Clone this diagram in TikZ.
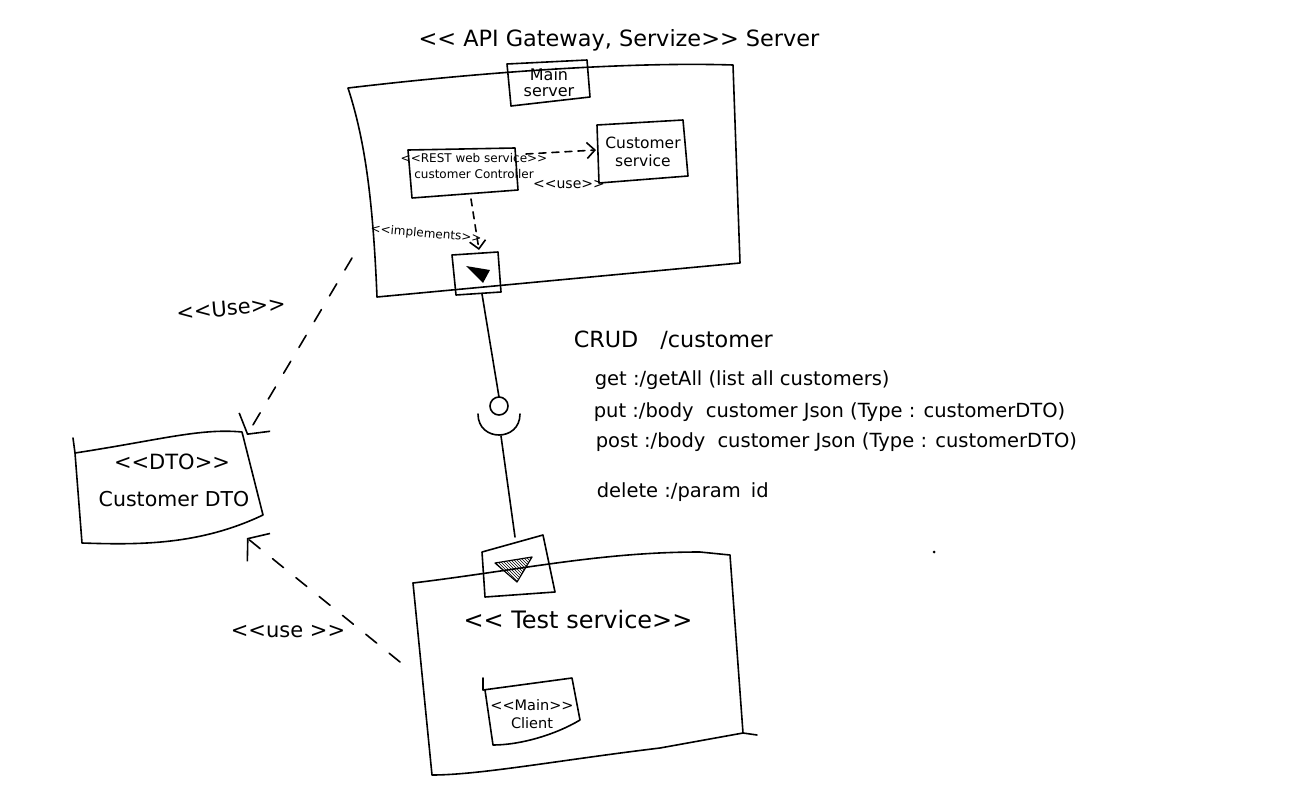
\documentclass[tikz,border=0pt]{standalone}
\usepackage{fontspec}
\setmainfont{DejaVu Sans}
\usetikzlibrary{arrows.meta,patterns}
\newcommand\LLx{<\kern0pt<}
\newcommand\GGx{>\kern0pt>}
\begin{document}
\begin{tikzpicture}[x=1pt,y=-1pt, line width=1.6pt, line join=round, line cap=round,
  lbl/.style={inner sep=0pt, align=center, font=\fontsize{15.5}{18.5}\selectfont},
  dsh/.style={dash pattern=on 14pt off 16pt},
  dshort/.style={dash pattern=on 7pt off 6pt},
  vhead/.style={-{Straight Barb[length=8pt,width=16pt,line width=1.6pt]}},
  bighead/.style={-{Straight Barb[length=14pt,width=36pt,line width=1.6pt]}},
  crudtxt/.style={anchor=west, inner sep=0pt, font=\fontsize{19.5}{23}\selectfont},
]
\useasboundingbox (0,0) rectangle (1306,811);
\fill[white] (0,0) rectangle (1306,811);

% title
\node[inner sep=0pt, font=\fontsize{22.4}{26}\selectfont] (title) at (619,40) {\LLx{} API Gateway, Servize\GGx{} Server};

% server box
\coordinate (sTL) at (348,88);
\coordinate (sTR) at (733,65);
\coordinate (sBR) at (740,263);
\coordinate (sBL) at (377,297);
\draw (sTL) .. controls (500,70) and (640,62) .. (sTR) -- (sBR) -- (sBL)
      .. controls (373,200) and (365,140) .. (sTL);

% main server
\draw (507,64) -- (587,60) -- (590,97) -- (511,106) -- cycle;
\node[inner sep=0pt, align=center, font=\fontsize{16}{16}\selectfont] (mainsrv) at (549,83) {Main\\server};

% controller
\draw (408,150) -- (515,148) -- (518,190) -- (412,198) -- cycle;
\node[inner sep=0pt, align=center, font=\fontsize{12}{16}\selectfont] (ctrl) at (474,166) {\LLx REST web service\GGx\\customer Controller};
\coordinate (ctrlE) at (526,154);
\coordinate (ctrlS) at (471,199);

% customer service
\draw (597,125) -- (683,120) -- (688,176) -- (599,183) -- cycle;
\node[lbl] (custsvc) at (643,152) {Customer\\service};
\coordinate (custW) at (596,150);

\draw[dshort, vhead] (ctrlE) -- (custW);
\node[inner sep=0pt, font=\fontsize{14}{17}\selectfont] (use1) at (569,185) {\LLx use\GGx};

% implements
\coordinate (portN) at (479,250);
\draw[dshort, vhead] (ctrlS) -- (portN);
\node[inner sep=0pt, font=\fontsize{12}{14}\selectfont, rotate=-5] (impl) at (426,234) {\LLx implements\GGx};

% top port
\draw (452,255) -- (498,252) -- (501,292) -- (456,295) -- cycle;
\coordinate (portS) at (482,294);
\fill (466,266) -- (490,270) -- (483,283) -- cycle;

% lollipop
\coordinate (ball) at (499,397);
\draw (portS) -- (ball);
\draw (499,406) circle[radius=9pt];
\draw (478,414) .. controls (478,442) and (520,442) .. (520,414);
\coordinate (sock) at (501,436);
\coordinate (port2N) at (515,537);
\draw (sock) -- (port2N);

% bottom port
\draw (482,552) -- (543,535) -- (555,592) -- (485,597) -- cycle;
\fill[pattern=north west lines, pattern color=black] (495,563) -- (532,557) -- (517,582) -- cycle;
\draw[line width=1.2pt] (495,563) -- (532,557) -- (517,582) -- cycle;

% test service box
\coordinate (tTL) at (413,583);
\coordinate (tTR) at (730,555);
\coordinate (tBR) at (743,733);
\coordinate (tBL) at (432,775);
\draw (tTL) .. controls (520,570) and (600,552) .. (700,552) -- (tTR) -- (tBR) -- (757,735);
\draw (tBR) -- (660,748) .. controls (560,760) and (480,775) .. (tBL) -- (tTL);
\node[inner sep=0pt, font=\fontsize{24}{28}\selectfont] (testsvc) at (578,620) {\LLx{} Test service\GGx};

% main client
\draw (483,678) -- (483,690) -- (572,678) -- (580,720) .. controls (555,735) and (520,745) .. (493,745) -- (485,690);
\node[inner sep=0pt, align=center, font=\fontsize{14.5}{18}\selectfont] (client) at (532,714) {\LLx Main\GGx\\Client};

% DTO box
\coordinate (dTL) at (75,453);
\coordinate (dTR) at (242,432);
\coordinate (dBR) at (263,515);
\coordinate (dBL) at (82,543);
\draw (73,438) -- (dTL) .. controls (160,440) and (200,428) .. (dTR) -- (dBR)
      .. controls (200,545) and (140,545) .. (dBL) -- (dTL);
\node[inner sep=0pt, font=\fontsize{21}{24}\selectfont] (dto1) at (172,462) {\LLx DTO\GGx};
\node[inner sep=0pt, font=\fontsize{20.5}{24}\selectfont] (dto2) at (174,499) {Customer DTO};
\coordinate (dtoN) at (247,435);
\coordinate (dtoS) at (247,538);

% use arrows to DTO
\coordinate (srvW) at (352,258);
\draw[dsh, bighead] (srvW) -- (dtoN);
\node[inner sep=0pt, font=\fontsize{21}{24}\selectfont, rotate=5] (use2) at (231,308) {\LLx Use\GGx};
\coordinate (testW) at (400,662);
\draw[dsh, bighead] (testW) -- (dtoS);
\node[inner sep=0pt, font=\fontsize{21}{24}\selectfont] (use3) at (288,632) {\LLx use \GGx};

% CRUD text
\node[anchor=west, inner sep=0pt, font=\fontsize{22.3}{26}\selectfont] (crud) at (573,340) {CRUD\hspace{22pt}/customer};
\node[crudtxt] (get) at (594,380) {get :/getAll (list all customers)};
\node[crudtxt] (put) at (593,412) {put :/body\hspace{12pt}customer Json (Type : customerDTO)};
\node[crudtxt] (post) at (595,442) {post :/body\hspace{12pt}customer Json (Type : customerDTO)};
\node[crudtxt] (del) at (596,492) {delete :/param\hspace{10pt}id};

% stray dot
\fill (934,552) circle[radius=1.5pt];
\end{tikzpicture}
\end{document}
